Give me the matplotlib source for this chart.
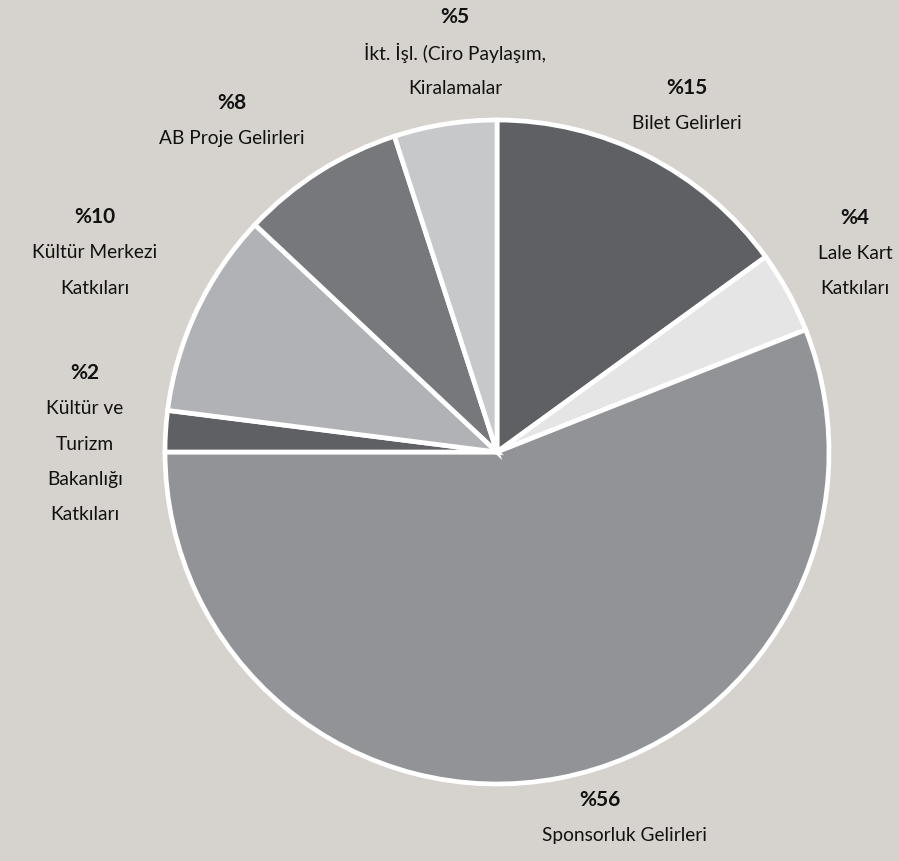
import matplotlib.pyplot as plt

# slice data, clockwise from 12 o'clock
categories = ['Bilet Gelirleri', 'Lale Kart Katkıları', 'Sponsorluk Gelirleri',
              'Kültür ve Turizm Bakanlığı Katkıları', 'Kültür Merkezi Katkıları',
              'AB Proje Gelirleri', 'İkt. İşl. (Ciro Paylaşım, Kiralamalar']
shares = [15, 4, 56, 2, 10, 8, 5]
colors = ['#5f6063', '#e5e5e6', '#929396', '#5f6063', '#b1b2b5', '#77787b', '#c7c8ca']

# label text as drawn (lines), same order
label_lines = [
    ['Bilet Gelirleri'],
    ['Lale Kart', 'Katkıları'],
    ['Sponsorluk Gelirleri'],
    ['Kültür ve', 'Turizm', 'Bakanlığı', 'Katkıları'],
    ['Kültür Merkezi', 'Katkıları'],
    ['AB Proje Gelirleri'],
    ['İkt. İşl. (Ciro Paylaşım,', 'Kiralamalar'],
]

W, H = 899, 861
bg = '#d6d2cd'
fig = plt.figure(figsize=(W / 100, H / 100), dpi=100, facecolor=bg)

cx, cy, r = 497, 452, 332
ax = fig.add_axes([(cx - r) / W, (H - cy - r) / H, 2 * r / W, 2 * r / H])
ax.pie(shares, colors=colors, startangle=90, counterclock=False, radius=1,
       wedgeprops=dict(edgecolor='white', linewidth=3.4))
ax.set_xlim(-1, 1)
ax.set_ylim(-1, 1)
ax.set_aspect('equal')
ax.axis('off')

# label anchors (pixel coords of the bold % line), layout only
anchors = [(687, 88), (855, 218), (600, 800), (85, 373), (95, 217), (232, 103), (455, 17)]
line_gap = 35.5
fam = ['Lato', 'DejaVu Sans']
for (px, py), share, lines in zip(anchors, shares, label_lines):
    fig.text(px / W, 1 - py / H, f'%{share}', ha='center', va='center',
             fontsize=15, fontweight='bold', family=fam, color='#111111')
    for i, ln in enumerate(lines):
        lx = px
        if share == 56:
            lx = 625
        fig.text(lx / W, 1 - (py + line_gap * (i + 1)) / H, ln, ha='center', va='center',
                 fontsize=13.8, family=fam, color='#111111')

fig.savefig('out.png', dpi=100, facecolor=bg)
